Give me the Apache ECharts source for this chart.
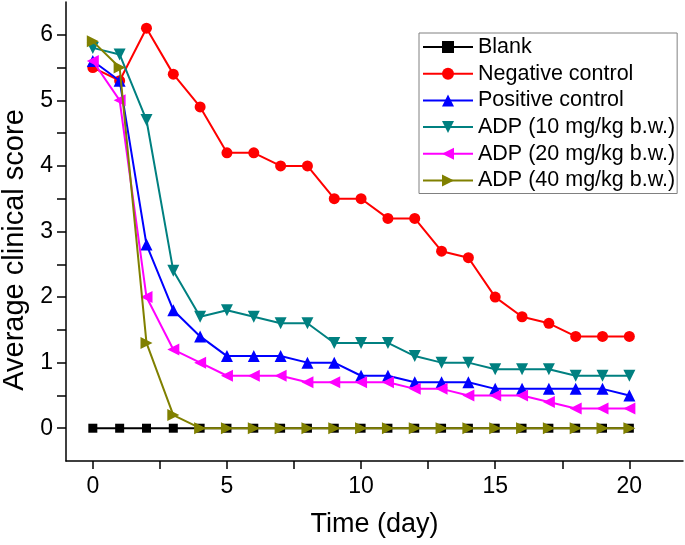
<!DOCTYPE html>
<html>
<head>
<meta charset="utf-8">
<script src="https://cdn.jsdelivr.net/npm/echarts@6/dist/echarts.min.js"></script>
<style>
html,body{margin:0;padding:0;background:#fff;}
#chart{width:685px;height:545px;}
</style>
</head>
<body>
<div id="chart"></div>
<script>
var days = [0,1,2,3,4,5,6,7,8,9,10,11,12,13,14,15,16,17,18,19,20];
var seriesNames = ['Blank','Negative control','Positive control','ADP (10 mg/kg b.w.)','ADP (20 mg/kg b.w.)','ADP (40 mg/kg b.w.)'];
var blank    = [0,0,0,0,0,0,0,0,0,0,0,0,0,0,0,0,0,0,0,0,0];
var negative = [5.5,5.3,6.1,5.4,4.9,4.2,4.2,4.0,4.0,3.5,3.5,3.2,3.2,2.7,2.6,2.0,1.7,1.6,1.4,1.4,1.4];
var positive = [5.6,5.3,2.8,1.8,1.4,1.1,1.1,1.1,1.0,1.0,0.8,0.8,0.7,0.7,0.7,0.6,0.6,0.6,0.6,0.6,0.5];
var adp10    = [5.8,5.7,4.7,2.4,1.7,1.8,1.7,1.6,1.6,1.3,1.3,1.3,1.1,1.0,1.0,0.9,0.9,0.9,0.8,0.8,0.8];
var adp20    = [5.6,5.0,2.0,1.2,1.0,0.8,0.8,0.8,0.7,0.7,0.7,0.7,0.6,0.6,0.5,0.5,0.5,0.4,0.3,0.3,0.3];
var adp40    = [5.9,5.5,1.3,0.2,0,0,0,0,0,0,0,0,0,0,0,0,0,0,0,0,0];
var xLabels = [0,5,10,15,20];
var xTicks = [0,2.5,5,7.5,10,12.5,15,17.5,20];
var yLabels = [0,1,2,3,4,5,6];
var yTicks = [0,0.5,1,1.5,2,2.5,3,3.5,4,4.5,5,5.5,6];

var colors = ['#000000','#ff0000','#0000ff','#008080','#ff00ff','#808000'];
var symbols = ['rect','circle','triangle','path://M0,0 L10,0 L5,10 Z','path://M0,5 L10,0 L10,10 Z','path://M0,0 L10,5 L0,10 Z'];
var sizes = [9,11,12,12,12,12];
var allData = [blank,negative,positive,adp10,adp20,adp40];

function pairs(arr){ return days.map(function(d,i){ return [d, arr[i]]; }); }

var series = allData.map(function(arr,i){
  return {
    name: seriesNames[i],
    type: 'line',
    data: pairs(arr),
    symbol: symbols[i],
    symbolSize: sizes[i],
    showAllSymbol: true,
    color: colors[i],
    lineStyle: {width: 2, color: colors[i]},
    itemStyle: {color: colors[i]},
    z: 2 + i,
    animation: false
  };
});

var font = 'Liberation Sans, Arial, sans-serif';
var chart = echarts.init(document.getElementById('chart'));
chart.setOption({
  animation: false,
  backgroundColor: '#ffffff',
  grid: {left: 66, right: 2, top: 2, bottom: 84, containLabel: false, outerBoundsMode: 'none'},
  legend: {
    orient: 'vertical',
    left: 419, top: 33,
    itemWidth: 50, itemHeight: 15,
    itemGap: 4.7,
    padding: [3, 2, 2, 3],
    borderColor: '#808080', borderWidth: 1,
    textStyle: {fontFamily: font, fontSize: 21.5, color: '#000', lineHeight: 21},
    data: seriesNames
  },
  xAxis: {
    type: 'value', min: -1, max: 22,
    name: 'Time (day)', nameLocation: 'middle', nameGap: 50,
    nameTextStyle: {fontFamily: font, fontSize: 27, color: '#000'},
    axisLine: {show: true, onZero: false, lineStyle: {color: '#000', width: 1.5}},
    axisTick: {show: true, length: 8, lineStyle: {color: '#000', width: 1.5}, customValues: xTicks},
    axisLabel: {fontFamily: font, fontSize: 23, color: '#000', margin: 14, customValues: xLabels},
    splitLine: {show: false}
  },
  yAxis: {
    type: 'value', min: -0.5, max: 6.5,
    name: 'Average clinical score', nameLocation: 'middle', nameGap: 32, nameRotate: 90,
    nameTextStyle: {fontFamily: font, fontSize: 29, color: '#000', padding: [0, 37, 0, 0]},
    axisLine: {show: true, onZero: false, lineStyle: {color: '#000', width: 1.5}},
    axisTick: {show: true, length: 9, lineStyle: {color: '#000', width: 1.5}, customValues: yTicks},
    axisLabel: {fontFamily: font, fontSize: 23, color: '#000', margin: 13, customValues: yLabels},
    splitLine: {show: false}
  },
  series: series
});
</script>
</body>
</html>
